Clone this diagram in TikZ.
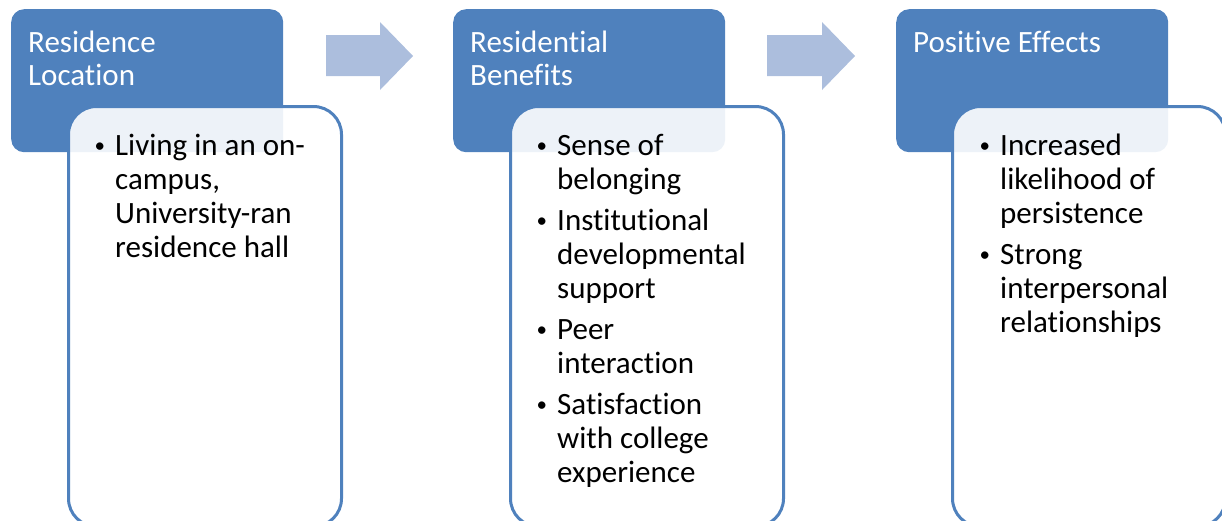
\documentclass[tikz,border=0pt]{standalone}
\usepackage{fontspec}
\setmainfont{Carlito}[Ligatures=NoCommon]

\definecolor{accent}{RGB}{79,129,189}
\definecolor{arrowfill}{RGB}{172,190,221}

\tikzset{
  header/.style={fill=accent, rounded corners=13pt, minimum width=272pt,
    minimum height=143pt, anchor=north west, inner sep=0pt},
  bodybox/.style={draw=accent, line width=3pt, fill=white, fill opacity=0.9,
    rounded corners=28pt, minimum width=273pt, minimum height=420pt,
    anchor=north west, inner sep=0pt},
  headtext/.style={text=white, anchor=base west, inner sep=0pt,
    font=\fontsize{31}{33}\selectfont},
  bodytext/.style={text=black, anchor=base west, inner sep=0pt,
    font=\fontsize{31}{34}\selectfont},
  flowarrow/.style={fill=arrowfill}
}
\newcommand{\bul}{\makebox[21pt][l]{\hspace{0.5pt}\raisebox{3pt}{\fontsize{21}{21}\selectfont\textbullet}}}

\begin{document}
\begin{tikzpicture}[x=1pt, y=-1pt]
  \useasboundingbox (0,0) rectangle (1222,520);
  \clip (0,0) rectangle (1222,520);

  % header blocks
  \node[header] (h1) at (11,9) {};
  \node[header] (h2) at (453,9) {};
  \node[header] (h3) at (896,9) {};

  % block arrows between the stages
  \fill[flowarrow] (326,35) -- (380,35) -- (380,22) -- (413,56)
    -- (380,90) -- (380,76) -- (326,76) -- cycle;
  \fill[flowarrow] (767,35) -- (822,35) -- (822,22) -- (855,56)
    -- (822,90) -- (822,76) -- (767,76) -- cycle;

  % detail panels
  \node[bodybox] (b1) at (67,105) {};
  \node[bodybox] (b2) at (509,105) {};
  \node[bodybox] (b3) at (951,105) {};

  % titles
  \node[headtext] (t1) at (28,52)
    {\begin{tabular}[t]{@{}l@{}}Residence\\Location\end{tabular}};
  \node[headtext] (t2) at (470,52)
    {\begin{tabular}[t]{@{}l@{}}Residential\\Benefits\end{tabular}};
  \node[headtext] (t3) at (913,52)
    {\begin{tabular}[t]{@{}l@{}}Positive Effects\end{tabular}};

  % bullet lists
  \node[bodytext] (l1) at (94,155)
    {\begin{tabular}[t]{@{}l@{}l@{}}
      \bul & Living in an on-\\
           & campus,\\
           & University-ran\\
           & residence hall
    \end{tabular}};
  \node[bodytext] (l2) at (536,155)
    {\begin{tabular}[t]{@{}l@{}l@{}}
      \bul & Sense of\\
           & belonging\\[7pt]
      \bul & Institutional\\
           & developmental\\
           & support\\[7pt]
      \bul & Peer\\
           & interaction\\[7pt]
      \bul & Satisfaction\\
           & with college\\
           & experience
    \end{tabular}};
  \node[bodytext] (l3) at (979,155)
    {\begin{tabular}[t]{@{}l@{}l@{}}
      \bul & Increased\\
           & likelihood of\\
           & persistence\\[7pt]
      \bul & Strong\\
           & interpersonal\\
           & relationships
    \end{tabular}};
\end{tikzpicture}
\end{document}
